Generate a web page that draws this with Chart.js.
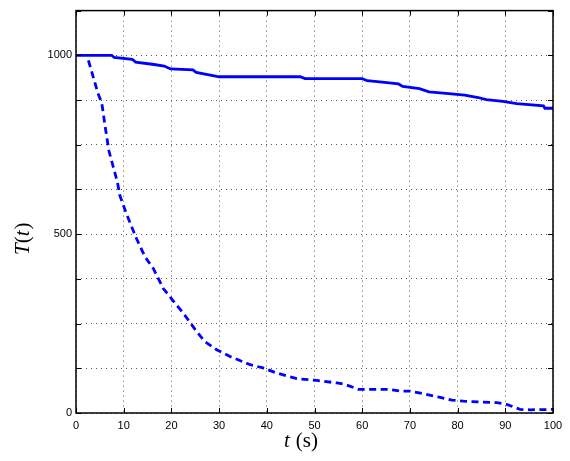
<!DOCTYPE html>
<html>
<head>
<meta charset="utf-8">
<script src="https://cdn.jsdelivr.net/npm/chart.js@4"></script>
<style>
  html, body { margin: 0; padding: 0; background: #fff; }
  #wrap { width: 570px; height: 461px; }
</style>
</head>
<body>
<div id="wrap"><canvas id="c" width="570" height="461"></canvas></div>
<script>
// Solid curve: T(t) for the first case (slow decrease)
const solidTime = [0, 7.5, 8, 11.8, 12.5, 16, 18.5, 19.8, 24.5, 25.2, 26.8, 29.5, 30, 47, 48, 60, 61, 63.7, 67.6, 68.5, 72, 74, 77, 81.5, 84.3, 86, 89.5, 92.4, 98, 98.3, 100];
const solidValues = [1000, 1000, 994, 989, 981, 975, 970, 962, 959, 952, 948, 941, 940, 940, 935, 935, 929, 926, 920, 913, 907, 898, 894, 889, 882, 876, 871, 865, 859, 852, 852];

// Dashed curve: T(t) for the second case (fast decay)
const dashedTime = [2.6, 4.6, 5.4, 6.1, 6.9, 8.7, 9.2, 10.6, 12.7, 14.5, 16.2, 18.3, 20.4, 22.5, 25, 27, 29.5, 32.3, 36.5, 39.2, 42, 46.3, 50.5, 54.7, 56.4, 59.2, 65.8, 68, 70, 72.8, 75.9, 78.8, 81.2, 88.2, 90.3, 91.7, 93.1, 95.2, 100];
const dashedValues = [986, 894, 867, 802, 733, 644, 608, 556, 487, 436, 404, 348, 313, 279, 233, 200, 177, 158, 135, 126, 112, 96, 91, 84, 80, 66, 66, 61, 61, 54, 45, 36, 33, 29, 24, 17, 10, 9, 10];

const xTicks = [0, 10, 20, 30, 40, 50, 60, 70, 80, 90, 100];
const yLabelled = [0, 500, 1000];

const BLUE = "#0000ff";
const TICK_FONT = { family: "'Liberation Sans', Arial, sans-serif", size: 11 };

function pts(xs, ys) {
  return xs.map((x, i) => ({ x: x, y: ys[i] }));
}

// Matlab-style box with inward tick marks + serif axis titles
const frame = {
  id: "frame",
  afterDatasetsDraw(chart) {
    const { ctx, chartArea: a, scales } = chart;
    ctx.save();
    ctx.strokeStyle = "#000";
    ctx.lineWidth = 1;
    ctx.beginPath();
    scales.x.ticks.forEach((t) => {
      const px = Math.round(scales.x.getPixelForValue(t.value)) + 0.5;
      ctx.moveTo(px, a.bottom); ctx.lineTo(px, a.bottom - 5);
      ctx.moveTo(px, a.top); ctx.lineTo(px, a.top + 5);
    });
    scales.y.ticks.forEach((t) => {
      const py = Math.round(scales.y.getPixelForValue(t.value)) + 0.5;
      ctx.moveTo(a.left, py); ctx.lineTo(a.left + 5, py);
      ctx.moveTo(a.right, py); ctx.lineTo(a.right - 5, py);
    });
    ctx.stroke();
    ctx.lineWidth = 1.5;
    ctx.strokeRect(a.left, a.top, a.right - a.left, a.bottom - a.top);

    // x title: "t (s)"
    ctx.fillStyle = "#000";
    ctx.textBaseline = "alphabetic";
    const it = "italic 21px 'Liberation Serif', 'Times New Roman', serif";
    const rm = "21px 'Liberation Serif', 'Times New Roman', serif";
    let x = 284;
    ctx.font = it; ctx.fillText("t", x, 447); x += ctx.measureText("t").width + 6;
    ctx.font = rm; ctx.fillText("(s)", x, 447);

    // y title: "T(t)" rotated
    ctx.translate(29, 255);
    ctx.rotate(-Math.PI / 2);
    let y = 0;
    [["T", it], ["(", rm], ["t", it], [")", rm]].forEach(([s, f]) => {
      ctx.font = f; ctx.fillText(s, y, 0); y += ctx.measureText(s).width + (s === "t" ? 1 : 0);
    });
    ctx.restore();
  },
};

new Chart(document.getElementById("c"), {
  type: "scatter",
  data: {
    datasets: [
      {
        label: "solid",
        data: pts(solidTime, solidValues),
        showLine: true,
        borderColor: BLUE,
        borderWidth: 2.8,
        pointRadius: 0,
        tension: 0,
      },
      {
        label: "dashed",
        data: pts(dashedTime, dashedValues),
        showLine: true,
        borderColor: BLUE,
        borderWidth: 2.8,
        borderDash: [7, 4.5],
        pointRadius: 0,
        tension: 0,
      },
    ],
  },
  options: {
    responsive: false,
    animation: false,
    layout: { padding: { left: 0, top: 4.6, right: 17, bottom: 0 } },
    plugins: { legend: { display: false }, tooltip: { enabled: false } },
    scales: {
      x: {
        type: "linear",
        min: 0,
        max: 100,
        afterBuildTicks: (s) => { s.ticks = xTicks.map((v) => ({ value: v })); },
        afterFit: (s) => { s.height = 48; },
        ticks: { color: "#000", font: TICK_FONT, padding: 6, maxRotation: 0 },
        grid: { color: "#555", lineWidth: 1, drawTicks: false },
        border: { display: false, dash: [1, 4] },
      },
      y: {
        type: "linear",
        min: 0,
        max: 1125,
        ticks: {
          stepSize: 125,
          color: "#000",
          font: TICK_FONT,
          padding: 4,
          callback: (v) => (yLabelled.includes(v) ? String(v) : ""),
        },
        afterFit: (s) => { s.width = 76; },
        grid: { color: "#555", lineWidth: 1, drawTicks: false },
        border: { display: false, dash: [1, 4] },
      },
    },
  },
  plugins: [frame],
});
</script>
</body>
</html>
